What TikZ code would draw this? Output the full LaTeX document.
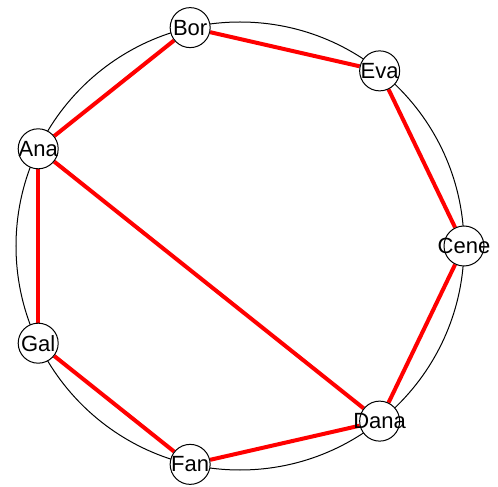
\documentclass[tikz,border=0pt]{standalone}
\usepackage{fontspec}
\setmainfont{Liberation Sans}
\usetikzlibrary{backgrounds}

\tikzset{
  vtx/.style={circle, draw=black, fill=white, line width=0.5pt, minimum size=20pt, inner sep=0pt},
  tie/.style={red, line width=2pt}
}

\begin{document}
\begin{tikzpicture}[font=\fontsize{11}{13}\selectfont]
\useasboundingbox (-120pt,-120.5pt) rectangle (129pt,123pt);
\foreach \nm/\txt [count=\i from 0] in {cene/Cene, eva/Eva, bor/Bor, ana/Ana, gal/Gal, fan/Fan, dana/Dana}
  \node[vtx, label={[inner sep=0pt]center:\txt}] (\nm) at ({\i*360/7}:112pt) {};

\begin{scope}[on background layer]
  \draw[line width=0.5pt] (0,0) circle (112pt);
  \draw[tie] (bor) -- (eva);
  \draw[tie] (bor) -- (ana);
  \draw[tie] (eva) -- (cene);
  \draw[tie] (cene) -- (dana);
  \draw[tie] (dana) -- (fan);
  \draw[tie] (fan) -- (gal);
  \draw[tie] (gal) -- (ana);
  \draw[tie] (ana) -- (dana);
\end{scope}
\end{tikzpicture}
\end{document}
